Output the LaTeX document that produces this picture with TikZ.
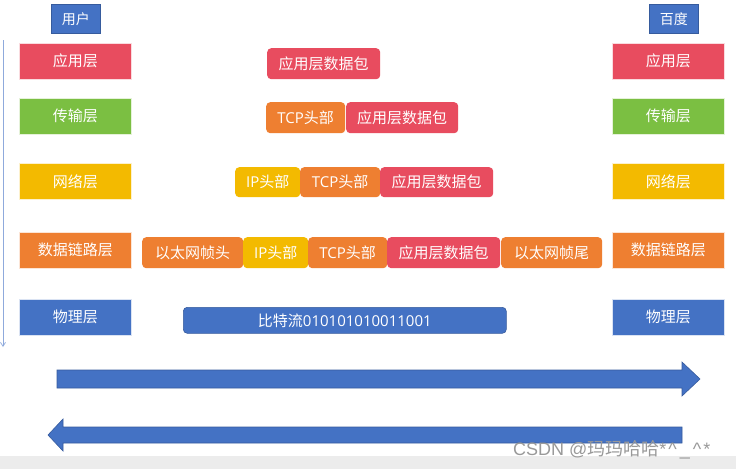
\documentclass[tikz,border=0pt]{standalone}
\usepackage{fontspec}
\setmainfont{Noto Sans CJK SC}
\newfontfamily\lat{Open Sans}
\newfontfamily\wlat{Liberation Sans}
\usetikzlibrary{arrows.meta}
\definecolor{cblue}{HTML}{4472C4}
\definecolor{cred}{HTML}{E84C5F}
\definecolor{cgreen}{HTML}{7BBF42}
\definecolor{cyellow}{HTML}{F3BA00}
\definecolor{corange}{HTML}{EE7F31}
\tikzset{
  lay/.style={draw=white!80!#1, fill=#1, text=white, inner sep=0pt, anchor=north west, minimum width=112pt, minimum height=36pt, font=\fontsize{15}{15}\selectfont, line width=0.6pt},
  tag/.style={draw=#1!80!black, fill=#1, text=white, inner sep=0pt, anchor=north west, minimum width=49pt, minimum height=29pt, font=\fontsize{14}{14}\selectfont, line width=0.8pt},
  pkt/.style={fill=#1, text=white, inner sep=0pt, anchor=north west, rounded corners=4pt, font=\fontsize{15}{15}\selectfont},
}
\begin{document}
\begin{tikzpicture}[x=1pt,y=-1pt]
\useasboundingbox (0,0) rectangle (736,469);
\fill[white] (0,0) rectangle (736,469);
\fill[gray!15] (0,456) rectangle (736,469);
% tags
\node[tag=cblue] (user) at (51,4) {用户};
\node[tag=cblue] (baidu) at (649,4) {百度};
% vertical arrow
\coordinate (vtop) at (3,40);
\coordinate (vbot) at (3,347);
\draw[color=cblue!60, line width=0.7pt, -{Straight Barb[length=4pt,width=5pt]}] (vtop) -- (vbot);
% left layers
\node[lay=cred]    (l1) at (19,43)  {应用层};
\node[lay=cgreen]  (l2) at (19,98)  {传输层};
\node[lay=cyellow] (l3) at (19,163) {网络层};
\node[lay=corange] (l4) at (19,232) {数据链路层};
\node[lay=cblue]   (l5) at (19,299) {物理层};
% right layers
\node[lay=cred]    (r1) at (612,43)  {应用层};
\node[lay=cgreen]  (r2) at (612,98)  {传输层};
\node[lay=cyellow] (r3) at (612,163) {网络层};
\node[lay=corange] (r4) at (612,232) {数据链路层};
\node[lay=cblue]   (r5) at (612,299) {物理层};
% packets row 1
\node[pkt=cred, minimum width=113pt, minimum height=31pt] (a1) at (267,48) {应用层数据包};
% row 2
\node[pkt=corange, minimum width=79pt, minimum height=31pt] (t2) at (266,102) {{\lat TCP}头部};
\node[pkt=cred, minimum width=112pt, minimum height=31pt] (a2) at (346,102) {应用层数据包};
% row 3
\node[pkt=cyellow, minimum width=65pt, minimum height=30pt] (i3) at (235,167) {{\lat IP}头部};
\node[pkt=corange, minimum width=80pt, minimum height=30pt] (t3) at (300,167) {{\lat TCP}头部};
\node[pkt=cred, minimum width=113pt, minimum height=30pt] (a3) at (380,167) {应用层数据包};
% row 4
\node[pkt=corange, minimum width=101pt, minimum height=31pt] (e4) at (142,237) {以太网帧头};
\node[pkt=cyellow, minimum width=65pt, minimum height=31pt] (i4) at (243,237) {{\lat IP}头部};
\node[pkt=corange, minimum width=79pt, minimum height=31pt] (t4) at (308,237) {{\lat TCP}头部};
\node[pkt=cred, minimum width=113pt, minimum height=31pt] (a4) at (387,237) {应用层数据包};
\node[pkt=corange, minimum width=101pt, minimum height=31pt] (f4) at (501,237) {以太网帧尾};
% bit stream
\node[pkt=cblue, draw=cblue!80!black, line width=0.6pt, minimum width=323pt, minimum height=26pt] (bits) at (183,307) {比特流{\lat 010101010011001}};
% big arrows
\fill[cblue, draw=cblue!80!black, line width=0.6pt] (57,370) -- (682,370) -- (682,362) -- (700,379) -- (682,396) -- (682,388) -- (57,388) -- cycle;
\fill[cblue, draw=cblue!80!black, line width=0.6pt] (682,427) -- (63,427) -- (63,419) -- (48,435) -- (63,451) -- (63,443) -- (682,443) -- cycle;
% watermark
\node[text=gray!80, anchor=west, inner sep=0pt, font=\fontsize{18}{18}\selectfont] (wm) at (513,450) {{\wlat CSDN @}玛玛哈哈{\wlat *\hspace{2pt}\^{}\hspace{3pt}\_\hspace{3pt}\^{}\hspace{2pt}*}};
\end{tikzpicture}
\end{document}
